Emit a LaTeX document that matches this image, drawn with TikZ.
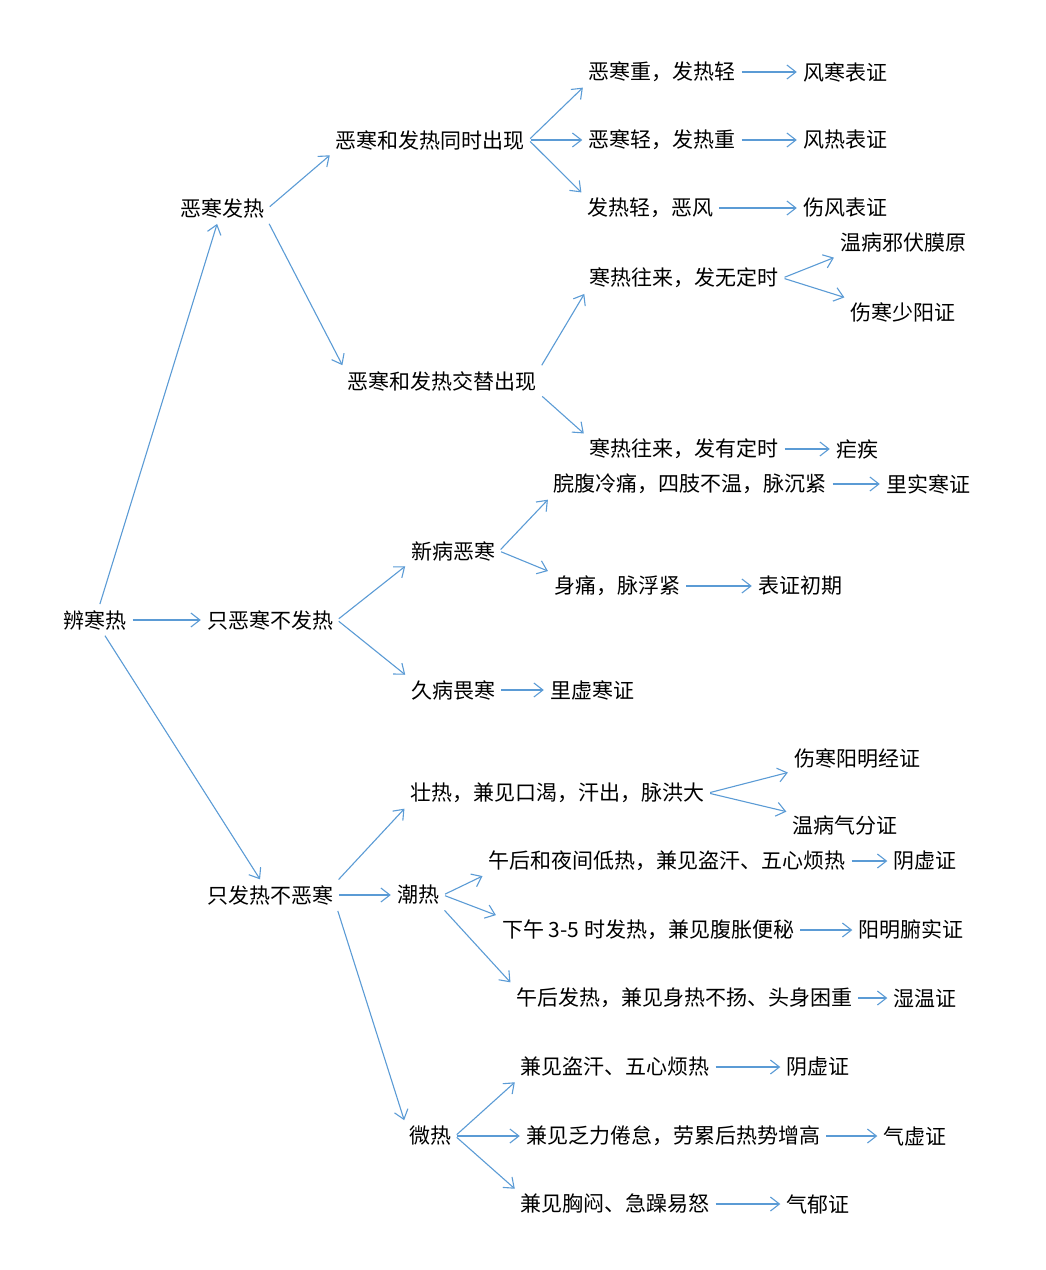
\documentclass[tikz,border=0pt]{standalone}
\usepackage{fontspec}
\setmainfont{Noto Sans CJK SC}
\usetikzlibrary{arrows.meta}
\definecolor{ac}{RGB}{91,155,213}
\begin{document}
\begin{tikzpicture}[x=1pt,y=-1pt,
  every node/.style={font=\fontsize{21}{24}\selectfont,inner sep=4pt,text=black},
  ar/.style={draw=ac,line width=1.1pt,-{Straight Barb[length=9pt,width=14pt,line width=1.1pt]},shorten >=2pt,shorten <=2pt}]
\useasboundingbox (0,0) rectangle (1046,1270);
\node (r) at (95,620) {辨寒热};
\node (a) at (222,208) {恶寒发热};
\node (b) at (270,620) {只恶寒不发热};
\node (c) at (270,895) {只发热不恶寒};
\node (a1) at (430,140) {恶寒和发热同时出现};
\node (a2) at (442,381) {恶寒和发热交替出现};
\node (a11) at (662,72) {恶寒重，发热轻};
\node (a11r) at (845,72) {风寒表证};
\node (a12) at (662,140) {恶寒轻，发热重};
\node (a12r) at (845,140) {风热表证};
\node (a13) at (650,208) {发热轻，恶风};
\node (a13r) at (845,208) {伤风表证};
\node (a21) at (684,278) {寒热往来，发无定时};
\node (a21r1) at (903,243) {温病邪伏膜原};
\node (a21r2) at (903,312) {伤寒少阳证};
\node (a22) at (684,449) {寒热往来，发有定时};
\node (a22r) at (857,449) {疟疾};
\node (b1) at (453,551) {新病恶寒};
\node (b11) at (690,484) {脘腹冷痛，四肢不温，脉沉紧};
\node (b11r) at (928,484) {里实寒证};
\node (b12) at (617,586) {身痛，脉浮紧};
\node (b12r) at (800,586) {表证初期};
\node (b2) at (453,690) {久病畏寒};
\node (b2r) at (592,690) {里虚寒证};
\node (c1) at (557,793) {壮热，兼见口渴，汗出，脉洪大};
\node (c1r1) at (857,758) {伤寒阳明经证};
\node (c1r2) at (845,826) {温病气分证};
\node (c2) at (418,895) {潮热};
\node (c21) at (667,861) {午后和夜间低热，兼见盗汗、五心烦热};
\node (c21r) at (925,861) {阴虚证};
\node (c22) at (648,930) {下午 3-5 时发热，兼见腹胀便秘};
\node (c22r) at (911,930) {阳明腑实证};
\node (c23) at (684,998) {午后发热，兼见身热不扬、头身困重};
\node (c23r) at (925,998) {湿温证};
\node (c3) at (430,1136) {微热};
\node (c31) at (615,1067) {兼见盗汗、五心烦热};
\node (c31r) at (818,1067) {阴虚证};
\node (c32) at (673,1136) {兼见乏力倦怠，劳累后热势增高};
\node (c32r) at (915,1136) {气虚证};
\node (c33) at (615,1204) {兼见胸闷、急躁易怒};
\node (c33r) at (818,1204) {气郁证};
\draw[ar] (r) -- (a);
\draw[ar] (r) -- (b);
\draw[ar] (r) -- (c);
\draw[ar] (a.east) -- (a1.south west);
\draw[ar] (a.south east) -- (a2.north west);
\draw[ar] (a1.east) -- (a11.south west);
\draw[ar] (a1.east) -- (a12.west);
\draw[ar] (a1.east) -- (a13.north west);
\draw[ar] (a11) -- (a11r);
\draw[ar] (a12) -- (a12r);
\draw[ar] (a13) -- (a13r);
\draw[ar] (a2.north east) -- (a21.south west);
\draw[ar] (a2.south east) -- (a22.north west);
\draw[ar] (a21.east) -- (a21r1.south west);
\draw[ar] (a21.east) -- (a21r2.north west);
\draw[ar] (a22) -- (a22r);
\draw[ar] (b.east) -- (b1.south west);
\draw[ar] (b.east) -- (b2.north west);
\draw[ar] (b1.east) -- (b11.south west);
\draw[ar] (b1.east) -- (b12.north west);
\draw[ar] (b11) -- (b11r);
\draw[ar] (b12) -- (b12r);
\draw[ar] (b2) -- (b2r);
\draw[ar] (c.north east) -- (c1.south west);
\draw[ar] (c) -- (c2);
\draw[ar] (c.south east) -- (c3.north west);
\draw[ar] (c1.east) -- (c1r1.south west);
\draw[ar] (c1.east) -- (c1r2.north west);
\draw[ar] (c2.east) -- (c21.south west);
\draw[ar] (c2.east) -- (c22.north west);
\draw[ar] (c2.south east) -- (c23.north west);
\draw[ar] (c21) -- (c21r);
\draw[ar] (c22) -- (c22r);
\draw[ar] (c23) -- (c23r);
\draw[ar] (c3.east) -- (c31.south west);
\draw[ar] (c3) -- (c32);
\draw[ar] (c3.east) -- (c33.north west);
\draw[ar] (c31) -- (c31r);
\draw[ar] (c32) -- (c32r);
\draw[ar] (c33) -- (c33r);
\end{tikzpicture}
\end{document}
